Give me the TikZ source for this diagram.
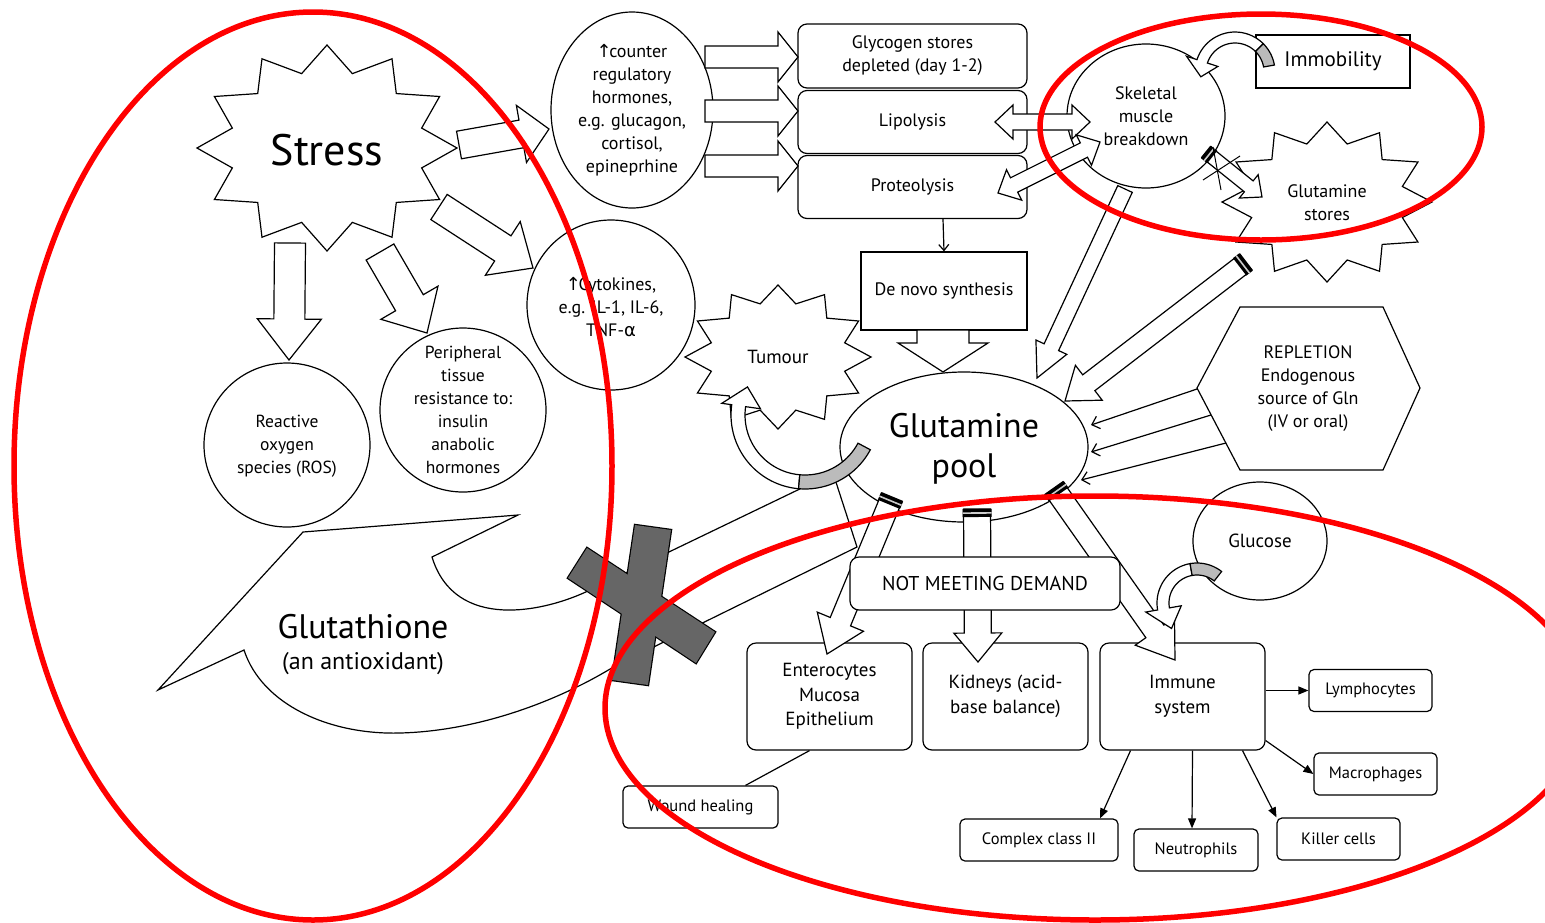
\documentclass[tikz,border=0pt]{standalone}
\usepackage{fontspec}
\setmainfont{PT Sans}
\newfontfamily\symf{DejaVu Sans}
\usetikzlibrary{calc,arrows.meta,shapes.geometric}
\definecolor{crossgray}{HTML}{666666}
\definecolor{arcgray}{HTML}{BBBBBB}

\newcommand{\blockarr}[5]{%
  \coordinate (ba-h) at ($(#2)!#5pt!(#1)$);
  \draw[blk] ($(#1)!#3pt!90:(#2)$) -- ($(ba-h)!#3pt!90:(#2)$) -- ($(ba-h)!#4pt!90:(#2)$) -- (#2) -- ($(ba-h)!#4pt!-90:(#2)$) -- ($(ba-h)!#3pt!-90:(#2)$) -- ($(#1)!#3pt!-90:(#2)$) -- cycle;
}
\newcommand{\dblockarr}[5]{%
  \coordinate (da-1) at ($(#1)!#5pt!(#2)$);
  \coordinate (da-2) at ($(#2)!#5pt!(#1)$);
  \draw[blk] (#1) -- ($(da-1)!#4pt!90:(#2)$) -- ($(da-1)!#3pt!90:(#2)$) -- ($(da-2)!#3pt!-90:(#1)$) -- ($(da-2)!#4pt!-90:(#1)$) -- (#2) -- ($(da-2)!#4pt!90:(#1)$) -- ($(da-2)!#3pt!90:(#1)$) -- ($(da-1)!#3pt!-90:(#2)$) -- ($(da-1)!#4pt!-90:(#2)$) -- cycle;
}
\newcommand{\bandcap}[3]{%
  \coordinate (bc-m) at ($(#1)!4pt!(#2)$);
  \coordinate (bc-b) at ($(#1)!8pt!(#2)$);
  \fill[black] ($(#1)!#3pt!90:(#2)$) -- ($(#1)!#3pt!-90:(#2)$) -- ($(bc-b)!#3pt!-90:(#2)$) -- ($(bc-b)!#3pt!90:(#2)$) -- cycle;
  \draw[gray!40, line width=1.6pt] ($(bc-m)!#3pt!90:(#2)$) -- ($(bc-m)!#3pt!-90:(#2)$);
}
\newcommand{\starpoly}[6]{%
  \draw[blk] plot[samples at={0,...,23}] ({#1+ifthenelse(mod(\x,2)==0,#3,#5)*cos(15*\x)},{#2+ifthenelse(mod(\x,2)==0,#4,#6)*sin(15*\x)}) -- cycle;
}
\newcommand{\uparr}{{\symf ↑}\kern-2.5pt}

\begin{document}
\begin{tikzpicture}[x=1pt,y=-1pt,
  blk/.style={draw, line width=1.2pt, fill=white, line join=miter},
  shp/.style={draw, line width=1.2pt, fill=white, inner sep=0pt},
  oval/.style={shp, ellipse},
  rbox/.style={shp, rectangle, rounded corners=9pt, align=center, font=\fontsize{18}{23}\selectfont},
  sbox/.style={shp, rectangle, align=center, font=\fontsize{18}{23}\selectfont},
  smallbox/.style={shp, rectangle, rounded corners=5pt, minimum width=123pt, minimum height=42pt, font=\fontsize{16.5}{19}\selectfont},
  txt/.style={align=center, inner sep=0pt, font=\fontsize{18}{23}\selectfont},
  ln/.style={line width=1.2pt},
  tri/.style={-{Triangle[length=10pt,width=8pt]}},
  barb/.style={-{Straight Barb[length=7pt,width=13pt]}},
  redring/.style={draw=red, line width=5.5pt},
]
\useasboundingbox (0,0) rectangle (1545,922);

% ---------- Glutathione bubble with band to the pool ----------
\draw[blk] (518,515) -- (303,532) -- (158,690) -- (244,650)
  .. controls (262,705) and (330,735) .. (400,733)
  .. controls (480,731) and (560,700) .. (615,666) -- (857,547) -- (833,473) -- (590,590)
  .. controls (545,612) and (455,632) .. (432,557) -- cycle;
\node[inner sep=0pt, font=\fontsize{34}{38}\selectfont] (gsh) at (363,627) {Glutathione};
\node[inner sep=0pt, font=\fontsize{24}{28}\selectfont] (gshsub) at (363,664) {(an antioxidant)};
% blocking cross
\draw[line width=2.4pt, fill=crossgray] (635,525) -- (671,530) -- (648,685) -- (612,680) -- cycle;
\draw[line width=2.4pt, fill=crossgray] (587,548) -- (715,632) -- (696,663) -- (568,578) -- cycle;
\fill[crossgray] (635,525) -- (671,530) -- (648,685) -- (612,680) -- cycle;
\fill[crossgray] (587,548) -- (715,632) -- (696,663) -- (568,578) -- cycle;

% ---------- Stress ----------
\starpoly{327}{148}{130}{103}{98}{77}
\node[inner sep=0pt, font=\fontsize{44}{50}\selectfont] (stress) at (327,150) {Stress};

\node[oval, minimum width=166pt, minimum height=164pt] (ros) at (287,445) {};
\node[txt, font=\fontsize{17.5}{23}\selectfont] (rostxt) at (287,446) {Reactive\\oxygen\\species (ROS)};
\node[oval, minimum width=166pt, minimum height=164pt] (per) at (463,410) {};
\node[txt, font=\fontsize{17.5}{23}\selectfont] (pertxt) at (463,410) {Peripheral\\tissue\\resistance to:\\insulin\\anabolic\\hormones};

\node[oval, minimum width=162pt, minimum height=196pt] (crh) at (632,110) {};
\node[txt] (crhtxt) at (632,110) {\uparr counter\\regulatory\\hormones,\\e.g. glucagon,\\cortisol,\\epineprhine};
\node[oval, minimum width=168pt, minimum height=170pt] (cyto) at (611,305) {};
\node[txt] (cytotxt) at (611,307) {\uparr Cytokines,\\e.g. IL-1, IL-6,\\TNF-{\symf α}};

\coordinate (s1a) at (459,145); \coordinate (s1b) at (549,129);
\blockarr{s1a}{s1b}{14}{29}{28}
\coordinate (s2a) at (439,207); \coordinate (s2b) at (533,268);
\blockarr{s2a}{s2b}{15}{32}{36}
\coordinate (s3a) at (380,252); \coordinate (s3b) at (427,333);
\blockarr{s3a}{s3b}{16}{33}{35}
\coordinate (s4a) at (290,243); \coordinate (s4b) at (289,360);
\blockarr{s4a}{s4b}{15.5}{32}{41}

% ---------- metabolic boxes ----------
\node[rbox, minimum width=229pt, minimum height=64pt] (glyc) at (912.5,56) {Glycogen stores\\depleted (day 1-2)};
\node[rbox, minimum width=229pt, minimum height=63pt] (lipo) at (912.5,122) {Lipolysis};
\node[rbox, minimum width=229pt, minimum height=63pt] (prot) at (912.5,187) {Proteolysis};
\coordinate (c1a) at (705,57);  \coordinate (c1b) at (798,57);  \blockarr{c1a}{c1b}{11}{25}{20}
\coordinate (c2a) at (705,111); \coordinate (c2b) at (798,111); \blockarr{c2a}{c2b}{11}{25}{20}
\coordinate (c3a) at (705,166); \coordinate (c3b) at (798,166); \blockarr{c3a}{c3b}{11}{25}{20}

% ---------- Tumour ----------
\starpoly{778}{357}{93}{72}{69}{55}
\node[inner sep=0pt, font=\fontsize{19}{23}\selectfont] (tum) at (778,357) {Tumour};

% ---------- De novo ----------
\node[sbox, minimum width=166pt, minimum height=78pt] (denovo) at (944,291) {De novo synthesis};
\coordinate (d1a) at (943,330); \coordinate (d1b) at (943,372);
\blockarr{d1a}{d1b}{26}{45}{29}
\draw[ln, -{Straight Barb[length=6pt,width=10pt]}] ([xshift=30.5pt]prot.south) -- (denovo.north);

% ---------- Glutamine pool ----------
\node[oval, minimum width=248pt, minimum height=150pt] (pool) at (964,447) {};
\node[txt, font=\fontsize{34}{40}\selectfont] (pooltxt) at (964,449) {Glutamine\\pool};

% curved arrow pool -> tumour
\draw[blk] plot[domain=95:188, samples=30] ({805+74*cos(\x)},{415+74*sin(\x)})
  -- ({805+84*cos(188)},{415+84*sin(188)}) -- ({805+64*cos(206)},{415+64*sin(206)})
  -- ({805+45*cos(188)},{415+45*sin(188)})
  -- plot[domain=188:95, samples=30] ({805+60*cos(\x)},{415+60*sin(\x)}) -- cycle;
\draw[blk, fill=arcgray] plot[domain=28:95, samples=20] ({805+74*cos(\x)},{415+74*sin(\x)})
  -- plot[domain=95:28, samples=20] ({805+60*cos(\x)},{415+60*sin(\x)}) -- cycle;

% ---------- Skeletal muscle, Immobility ----------
\node[oval, minimum width=158pt, minimum height=144pt] (skel) at (1146,116) {};
\node[txt] (skeltxt) at (1146,116) {Skeletal\\muscle\\breakdown};
\node[sbox, minimum width=154pt, minimum height=53pt, font=\fontsize{21}{24}\selectfont] (immob) at (1333,61.5) {Immobility};
\draw[blk] plot[domain=-45:-162, samples=25] ({1235+40*cos(\x)},{72+40*sin(\x)})
  -- ({1235+51*cos(-162)},{72+51*sin(-162)}) -- ({1235+34.5*cos(-188)},{72+34.5*sin(-188)})
  -- ({1235+18*cos(-162)},{72+18*sin(-162)})
  -- plot[domain=-162:-45, samples=25] ({1235+29*cos(\x)},{72+29*sin(\x)}) -- cycle;
\draw[blk, fill=arcgray] plot[domain=-10:-45, samples=12] ({1235+40*cos(\x)},{72+40*sin(\x)})
  -- plot[domain=-45:-10, samples=12] ({1235+29*cos(\x)},{72+29*sin(\x)}) -- cycle;

% ---------- Glutamine stores ----------
\starpoly{1327}{202}{105}{80}{78}{60}
\node[txt] (storetxt) at (1327,203) {Glutamine\\stores};

\coordinate (l1a) at (995,122); \coordinate (l1b) at (1090,122);
\dblockarr{l1a}{l1b}{8}{17}{18}
\coordinate (p1a) at (998,193); \coordinate (p1b) at (1100,142);
\dblockarr{p1a}{p1b}{8}{17}{18}

\coordinate (k1a) at (1206,152); \coordinate (k1b) at (1262,197);
\blockarr{k1a}{k1b}{7}{15}{17}
\bandcap{k1a}{k1b}{8}
\coordinate (xa1) at (1203,180); \coordinate (xa2) at (1240,156);
\coordinate (xb1) at (1213,147); \coordinate (xb2) at (1221,190);
\draw[line width=1pt] (xa1) -- (xa2) (xb1) -- (xb2);

\coordinate (k2a) at (1125,189); \coordinate (k2b) at (1037,378);
\blockarr{k2a}{k2b}{8}{17}{34}
\coordinate (k3a) at (1246,262); \coordinate (k3b) at (1065,401);
\blockarr{k3a}{k3b}{10}{22}{30}
\bandcap{k3a}{k3b}{11}

% ---------- Repletion ----------
\coordinate (hx1) at (1197,388); \coordinate (hx2) at (1240,307); \coordinate (hx3) at (1383,307);
\coordinate (hx4) at (1420,388); \coordinate (hx5) at (1383,470); \coordinate (hx6) at (1240,470);
\draw[blk] (hx1) -- (hx2) -- (hx3) -- (hx4) -- (hx5) -- (hx6) -- cycle;
\node[txt] (rep) at (1308,389) {REPLETION\\Endogenous\\source of Gln\\(IV or oral)};
\coordinate (r1a) at (1197,389); \coordinate (r1b) at (1091,425);
\coordinate (r2a) at (1211,415); \coordinate (r2b) at (1091,452);
\coordinate (r3a) at (1226,443); \coordinate (r3b) at (1081,480);
\draw[ln, barb] (r1a) -- (r1b);
\draw[ln, barb] (r2a) -- (r2b);
\draw[ln, barb] (r3a) -- (r3b);

% ---------- Glucose ----------
\node[oval, minimum width=134pt, minimum height=118pt] (gluc) at (1260,541) {};
\node[txt, font=\fontsize{19}{23}\selectfont] (gluctxt) at (1260,541) {Glucose};

% ---------- demand targets ----------
\node[rbox, minimum width=165pt, minimum height=107pt, font=\fontsize{19}{24.5}\selectfont] (entero) at (829.5,696.5) {Enterocytes\\Mucosa\\Epithelium};
\node[rbox, minimum width=165pt, minimum height=107pt, font=\fontsize{19}{24.5}\selectfont] (kidney) at (1005.5,696.5) {Kidneys (acid-\\base balance)};
\node[rbox, minimum width=165pt, minimum height=107pt, font=\fontsize{19}{24.5}\selectfont] (immune) at (1182.5,696.5) {Immune\\system};

\coordinate (b1a) at (892,497); \coordinate (b1b) at (827,654);
\blockarr{b1a}{b1b}{11}{25}{35}
\bandcap{b1a}{b1b}{12}
\coordinate (b2a) at (977,509); \coordinate (b2b) at (978,662);
\blockarr{b2a}{b2b}{13.5}{24}{29}
\bandcap{b2a}{b2b}{14.5}
\coordinate (b3a) at (1054,488); \coordinate (b3b) at (1175,660);
\blockarr{b3a}{b3b}{11}{24}{35}
\bandcap{b3a}{b3b}{12}

\node[rbox, minimum width=270pt, minimum height=53pt, font=\fontsize{20}{24}\selectfont] (nmd) at (985,583.5) {NOT MEETING DEMAND};

% glucose -> immune curved arrow
\draw[blk] plot[domain=-100:-190, samples=25] ({1197+40*cos(\x)},{603+40*sin(\x)})
  -- ({1197+52*cos(-190)},{603+52*sin(-190)}) -- ({1197+36*cos(-225)},{603+36*sin(-225)})
  -- ({1197+16*cos(-190)},{603+16*sin(-190)})
  -- plot[domain=-190:-100, samples=25] ({1197+28*cos(\x)},{603+28*sin(\x)}) -- cycle;
\draw[blk, fill=arcgray] plot[domain=-52:-100, samples=15] ({1197+40*cos(\x)},{603+40*sin(\x)})
  -- plot[domain=-100:-52, samples=15] ({1197+28*cos(\x)},{603+28*sin(\x)}) -- cycle;

% ---------- immune cells ----------
\node[smallbox] (lymph) at (1370.5,690.5) {Lymphocytes};
\node[smallbox] (macro) at (1375.5,774) {Macrophages};
\node[smallbox] (killer) at (1338.5,839) {Killer cells};
\node[smallbox, minimum width=124pt] (neutro) at (1196,850) {Neutrophils};
\node[smallbox, minimum width=158pt] (complex) at (1039,840) {Complex class II};
\node[smallbox, minimum width=155pt] (wound) at (700.5,807) {Wound healing};

\draw[ln, tri] (immune.east |- lymph.west) -- (lymph.west);
\draw[ln, tri] ([yshift=-44pt]immune.east) -- (macro.west);
\draw[ln, tri] ([xshift=-52pt]immune.south) -- ([xshift=61pt]complex.north);
\draw[ln, tri] ([xshift=10pt]immune.south) -- ([xshift=-4pt]neutro.north);
\draw[ln, tri] ([xshift=60pt]immune.south) -- ([xshift=-62pt]killer.north);
\draw[ln] ([xshift=-20pt]entero.south) -- ([xshift=45pt]wound.north);

% ---------- red highlight rings ----------
\draw[redring] (313,466) ellipse [x radius=299, y radius=454];
\draw[redring] (1261,127) ellipse [x radius=221, y radius=113];
\draw[redring] (1095,708) ellipse [x radius=490, y radius=212];
\end{tikzpicture}
\end{document}
